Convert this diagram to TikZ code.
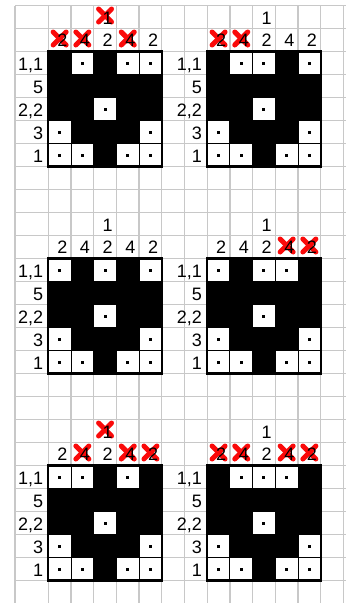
\documentclass[tikz,border=0pt]{standalone}
\usepackage{fontspec}
\setmainfont{Liberation Sans}
\definecolor{gridgray}{RGB}{200,200,200}
\definecolor{xred}{RGB}{250,10,10}
\tikzset{
  gridline/.style={draw=gridgray, line width=1.3pt},
  whitecell/.style={fill=white, draw=black, line width=1pt},
  frame/.style={draw=black, line width=2.2pt},
  clue/.style={anchor=base east, inner sep=0pt, font=\fontsize{18}{18}\selectfont},
  cross/.style={draw=xred, line width=5pt, line cap=round},
}
% red X over the clue in column #1, row #2 (absolute indices)
\newcommand\crossout[2]{%
  \draw[cross] ({25.6+22.7*(#1)+11.35-6.5},{5.5+23*(#2)+10-6.5}) -- ++(13,13);
  \draw[cross] ({25.6+22.7*(#1)+11.35-6.5},{5.5+23*(#2)+10+6.5}) -- ++(13,-13);}
% puzzle: #1 label column, #2 top clue row, #3 white cells of first row
\newcommand\nonogram[3]{%
  \begin{scope}[shift={({25.6+22.7*(#1+1)},{5.5+23*(#2+2)})}]
    \fill[black] (0,0) rectangle (113.5,115);
    \foreach \i/\r in {#3,2/2,0/3,4/3,0/4,1/4,3/4,4/4}{
      \draw[whitecell] ({22.7*\i},{23*\r}) rectangle ++(22.7,23);
      \fill[black] ({22.7*\i+11.35-1.5},{23*\r+11.5-1.5}) rectangle ++(3,3);
    }
    \draw[frame] (0,0) rectangle (113.5,115);
    \foreach \t [count=\i from 0] in {2,4,2,4,2}
      \node[clue] (cc-#1-#2-\i) at ({22.7*(\i+1)-3.5},-5.5) {\t};
    \node[clue] (ct-#1-#2) at ({22.7*3-3.5},-27.5) {1};
    \foreach \t [count=\r from 0] in {{1,1},5,{2,2},3,1}
      \node[clue] (rl-#1-#2-\r) at (-5,{23*\r+19}) {\t};
  \end{scope}}
\begin{document}
\begin{tikzpicture}[x=1pt,y=-1pt]
\useasboundingbox (0,0) rectangle (346,603);
% spreadsheet grid
\draw[gridline] (15,5.5) -- (15,603);
\foreach \j in {1,...,14}
  \draw[gridline] ({25.6+22.7*\j},5.5) -- ({25.6+22.7*\j},603);
\foreach \k in {0,...,25}
  \draw[gridline] (15,{5.5+23*\k}) -- (346,{5.5+23*\k});
% crossed-out clues
\crossout{1}{1}\crossout{2}{1}\crossout{4}{1}\crossout{3}{0}
\crossout{8}{1}\crossout{9}{1}
\crossout{11}{10}\crossout{12}{10}
\crossout{2}{19}\crossout{4}{19}\crossout{5}{19}\crossout{3}{18}
\crossout{8}{19}\crossout{9}{19}\crossout{11}{19}\crossout{12}{19}
% puzzles
\nonogram{0}{0}{1/0,3/0,4/0}
\nonogram{7}{0}{1/0,2/0,4/0}
\nonogram{0}{9}{0/0,2/0,4/0}
\nonogram{7}{9}{0/0,2/0,3/0}
\nonogram{0}{18}{0/0,1/0,3/0}
\nonogram{7}{18}{1/0,2/0,3/0}
\end{tikzpicture}
\end{document}
